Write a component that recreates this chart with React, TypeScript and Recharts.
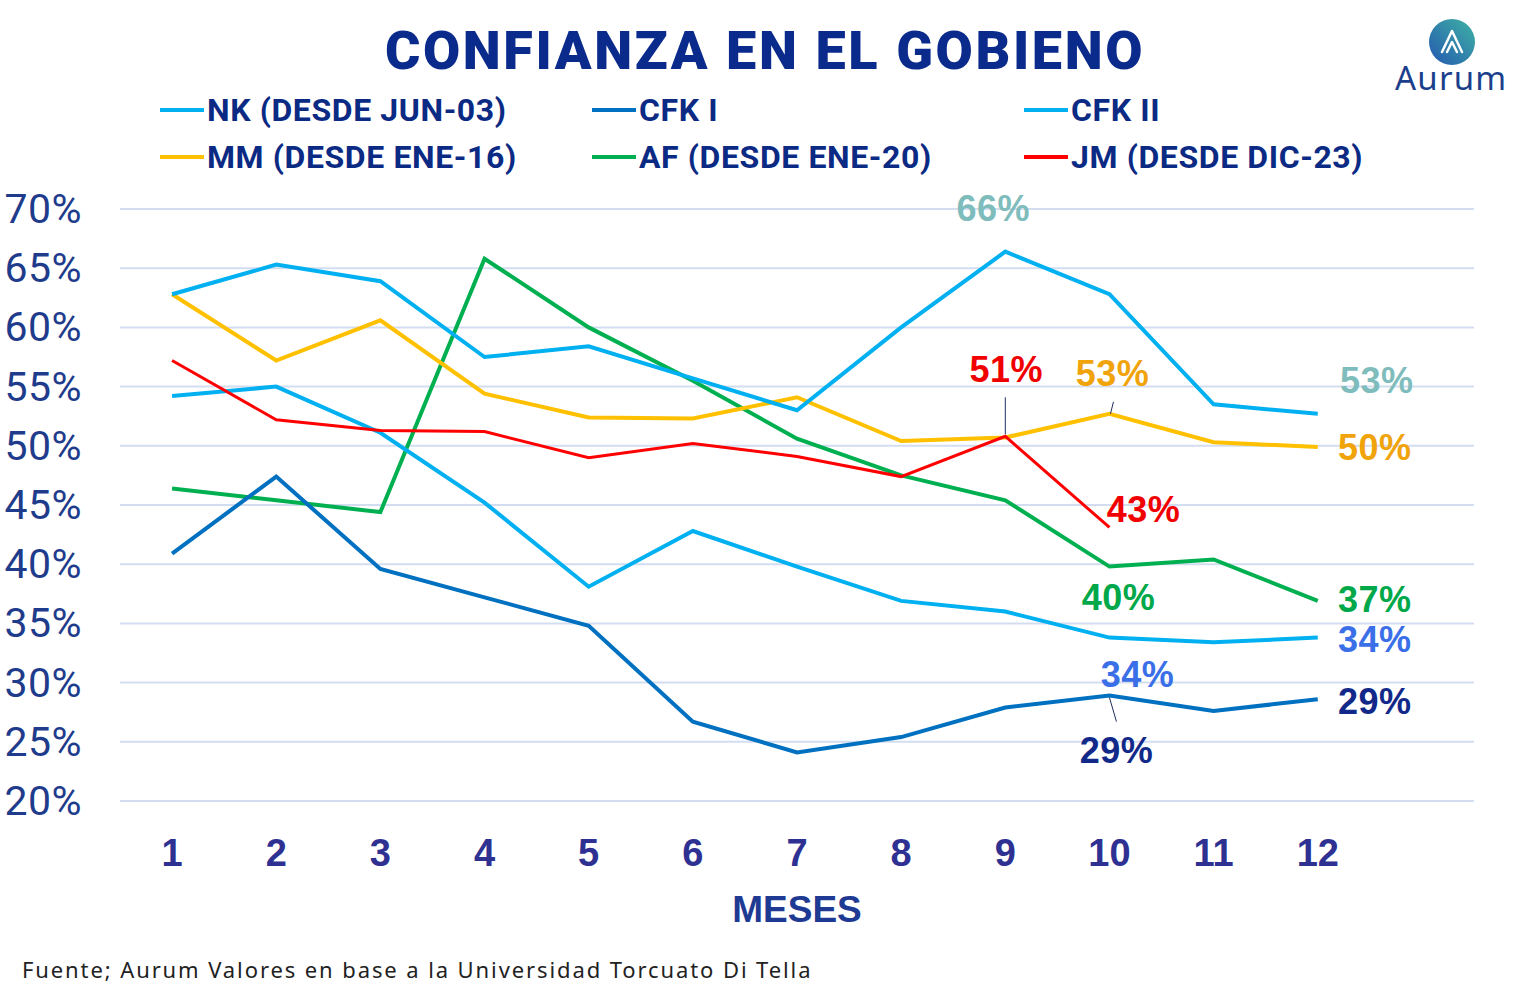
import React from 'react';
import { LineChart, Line, XAxis, YAxis, CartesianGrid } from 'recharts';

const months = [1, 2, 3, 4, 5, 6, 7, 8, 9, 10, 11, 12];
const yTicks = [20, 25, 30, 35, 40, 45, 50, 55, 60, 65, 70];

const nk = [54.2, 55.0, 51.1, 45.2, 38.1, 42.8, 39.8, 36.9, 36.0, 33.8, 33.4, 33.8];
const cfk1 = [40.9, 47.4, 39.6, 37.2, 34.8, 26.7, 24.1, 25.4, 27.9, 28.9, 27.6, 28.6];
const cfk2 = [62.8, 65.3, 63.9, 57.5, 58.4, 55.7, 53.0, 60.0, 66.4, 62.8, 53.5, 52.7];
const mm = [62.8, 57.2, 60.6, 54.4, 52.4, 52.3, 54.1, 50.4, 50.7, 52.7, 50.3, 49.9];
const af = [46.4, 45.4, 44.4, 65.8, 60.0, 55.5, 50.6, 47.5, 45.4, 39.8, 40.4, 36.9];
const jm: (number | null)[] = [57.2, 52.2, 51.3, 51.2, 49.0, 50.2, 49.1, 47.4, 50.8, 43.1, null, null];

const seriesNames = {
  nk: 'NK (DESDE JUN-03)',
  cfk1: 'CFK I',
  cfk2: 'CFK II',
  mm: 'MM (DESDE ENE-16)',
  af: 'AF (DESDE ENE-20)',
  jm: 'JM (DESDE DIC-23)',
};

const data = months.map((m, i) => ({
  month: m,
  nk: nk[i],
  cfk1: cfk1[i],
  cfk2: cfk2[i],
  mm: mm[i],
  af: af[i],
  jm: jm[i],
}));

const series = [
  { key: 'af', color: '#00b050', width: 4 },
  { key: 'nk', color: '#00b0f0', width: 4 },
  { key: 'cfk1', color: '#0070c0', width: 4 },
  { key: 'mm', color: '#ffc000', width: 4 },
  { key: 'cfk2', color: '#00b0f0', width: 4 },
  { key: 'jm', color: '#ff0000', width: 3 },
];

const colorOf: Record<string, string> = {};
series.forEach((s) => (colorOf[s.key] = s.color));

const legendRows = [
  ['nk', 'cfk1', 'cfk2'],
  ['mm', 'af', 'jm'],
];

type Annot = {
  key: string;
  index: number;
  dx: number;
  dy: number;
  color: string;
  leader?: [number, number, number, number];
};

const annotations: Annot[] = [
  { key: 'cfk2', index: 8, dx: -12, dy: -43, color: '#7fbcbc' },
  { key: 'jm', index: 8, dx: 1, dy: -67, color: '#f00000', leader: [0, -39, 0, -2] },
  { key: 'mm', index: 9, dx: 3, dy: -40, color: '#f0a30a', leader: [4, -12, 1, 0] },
  { key: 'cfk2', index: 11, dx: 59, dy: -33, color: '#7fbcbc' },
  { key: 'mm', index: 11, dx: 57, dy: 1, color: '#f0a30a' },
  { key: 'jm', index: 9, dx: 34, dy: -18, color: '#f00000' },
  { key: 'af', index: 9, dx: 9, dy: 31, color: '#00a84a' },
  { key: 'af', index: 11, dx: 57, dy: -1, color: '#00a84a' },
  { key: 'nk', index: 11, dx: 57, dy: 2, color: '#3a6fe8' },
  { key: 'nk', index: 9, dx: 28, dy: 37, color: '#3a6fe8' },
  { key: 'cfk1', index: 11, dx: 57, dy: 2, color: '#12298a' },
  { key: 'cfk1', index: 9, dx: 7, dy: 55, color: '#12298a', leader: [0, 2, 7, 26] },
];

const makeDot = (key: string) => (props: any) => {
  const { cx, cy, index, value } = props;
  const list = annotations.filter((a) => a.key === key && a.index === index);
  if (!list.length || cx == null || cy == null) return <g key={`d-${key}-${index}`} />;
  return (
    <g key={`d-${key}-${index}`}>
      {list.map((a, j) => (
        <g key={j}>
          {a.leader && (
            <line
              x1={cx + a.leader[0]}
              y1={cy + a.leader[1]}
              x2={cx + a.leader[2]}
              y2={cy + a.leader[3]}
              stroke="#1f2d5c"
              strokeWidth={1}
            />
          )}
          <text
            x={cx + a.dx}
            y={cy + a.dy}
            textAnchor="middle"
            dominantBaseline="central"
            fill={a.color}
            fontFamily="'Liberation Sans', Arial, sans-serif"
            fontWeight={700}
            fontSize={36}
            letterSpacing={0.5}
          >
            {`${Math.round(value)}%`}
          </text>
        </g>
      ))}
    </g>
  );
};

const YTick = (props: any) => {
  const { y, payload } = props;
  return (
    <text
      x={82}
      y={y}
      textAnchor="end"
      dominantBaseline="central"
      fill="#1f3c8c"
      fontFamily="Roboto, sans-serif"
      fontSize={41}
      letterSpacing={0.5}
    >
      {`${payload.value}%`}
    </text>
  );
};

const XTick = (props: any) => {
  const { x, y, payload } = props;
  return (
    <text
      x={x}
      y={y}
      dy={44}
      textAnchor="middle"
      dominantBaseline="central"
      fill="#2e3192"
      fontFamily="'Liberation Sans', Arial, sans-serif"
      fontWeight={700}
      fontSize={38}
    >
      {payload.value}
    </text>
  );
};

const legendX = [160, 592, 1024];
const legendY = [110, 157];

export default function App() {
  return (
    <div
      style={{
        position: 'absolute',
        left: 0,
        top: 0,
        width: 1530,
        height: 999,
        background: '#ffffff',
        overflow: 'hidden',
      }}
    >
      <div
        style={{
          position: 'absolute',
          left: 0,
          width: 1530,
          top: 18,
          textAlign: 'center',
          fontFamily: 'Roboto, sans-serif',
          fontWeight: 900,
          fontSize: 54,
          lineHeight: '66px',
          letterSpacing: 2.6,
          color: '#0b2b8c',
        }}
      >
        CONFIANZA EN EL GOBIENO
      </div>

      {legendRows.map((row, r) =>
        row.map((k, c) => (
          <div
            key={k}
            style={{
              position: 'absolute',
              left: legendX[c],
              top: legendY[r] - 20,
              height: 40,
              display: 'flex',
              alignItems: 'center',
              whiteSpace: 'nowrap',
            }}
          >
            <div style={{ width: 44, height: 4, background: colorOf[k], marginRight: 3 }} />
            <span
              style={{
                fontFamily: 'Roboto, sans-serif',
                fontWeight: 700,
                fontSize: 32,
                letterSpacing: 0.6,
                color: '#0b2a84',
              }}
            >
              {(seriesNames as any)[k]}
            </span>
          </div>
        ))
      )}

      <svg
        style={{ position: 'absolute', left: 1388, top: 14 }}
        width={140}
        height={88}
        viewBox="0 0 140 88"
      >
        <defs>
          <linearGradient id="lg" x1="0" y1="1" x2="1" y2="0">
            <stop offset="0%" stopColor="#2457b0" />
            <stop offset="100%" stopColor="#3fb3a4" />
          </linearGradient>
        </defs>
        <circle cx={64} cy={28} r={23} fill="url(#lg)" />
        <path
          d="M54 38 L64 17 L74 38 M59 38 L64 28 L69 38"
          stroke="#ffffff"
          strokeWidth={2.5}
          fill="none"
          strokeLinejoin="round"
          strokeLinecap="round"
        />
        <text
          x={7}
          y={76}
          fill="#1c3f8c"
          fontFamily="'Noto Sans', sans-serif"
          fontSize={33}
          fontWeight={400}
          letterSpacing={1.2}
        >
          Aurum
        </text>
      </svg>

      <LineChart
        width={1530}
        height={999}
        data={data}
        margin={{ top: 209, right: 56, bottom: 138, left: 0 }}
      >
        <CartesianGrid vertical={false} stroke="#d3ddf0" strokeWidth={2} />
        <XAxis
          dataKey="month"
          type="number"
          domain={[0.5, 13.5]}
          ticks={months}
          axisLine={false}
          tickLine={false}
          height={60}
          tick={<XTick />}
          interval={0}
        />
        <YAxis
          type="number"
          domain={[20, 70]}
          ticks={yTicks}
          axisLine={false}
          tickLine={false}
          width={120}
          tick={<YTick />}
          interval={0}
        />
        {series.map((s) => (
          <Line
            key={s.key}
            dataKey={s.key}
            type="linear"
            stroke={s.color}
            strokeWidth={s.width}
            dot={makeDot(s.key)}
            activeDot={false}
            isAnimationActive={false}
            connectNulls={false}
          />
        ))}
      </LineChart>

      <div
        style={{
          position: 'absolute',
          left: 0,
          width: 1594,
          top: 888,
          textAlign: 'center',
          fontFamily: "'Liberation Sans', Arial, sans-serif",
          fontWeight: 700,
          fontSize: 37,
          lineHeight: '44px',
          color: '#1f3a93',
        }}
      >
        MESES
      </div>

      <div
        style={{
          position: 'absolute',
          left: 22,
          top: 955,
          fontFamily: "'Noto Sans', sans-serif",
          fontSize: 22,
          lineHeight: '28px',
          letterSpacing: 1.9,
          color: '#222222',
          whiteSpace: 'nowrap',
        }}
      >
        Fuente; Aurum Valores en base a la Universidad Torcuato Di Tella
      </div>
    </div>
  );
}
